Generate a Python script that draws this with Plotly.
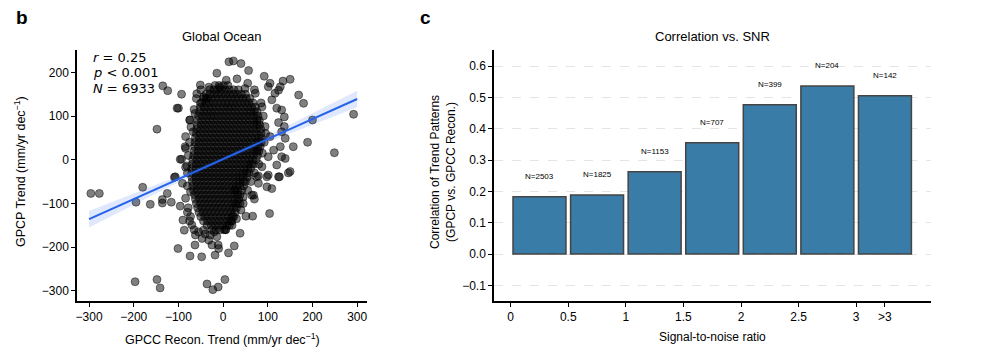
import plotly.graph_objects as go

# ---- panel b: GPCP vs GPCC recon. trends (mm/yr dec^-1) ----
# scattered points outside the dense core
outlier_x = [-148, -135, -124, -93, -100, -103, -59, -74, 13, 23, 40, 57, -14, 7, 31, 92, 105, 134, 150, 124,
             169, 180, 200, 157, 189, 249, 292, 131, 137, 139, 131, 150, 124, 98, 75, -96, -107, -81, -85, -84,
             -51, -38, -7, -296, -277, -180, -195, -163, -136, -136, -116, -109, -91, -96, -101, -74, -48, -63,
             -87, -90, -70, -197, -148, -141, -36, -23, -11, 4, -18, 12, 25, 38, -11, -14, -29, -44, 51, 66,
             104, 68, 70, 98, 109, 79, 126, 146, 45, 137, 124, 131, 128, 139, 120, 101, 79, 49, 116, 128, 101,
             109, 120, 72, 87, 94, 105, 113, 101, 87, -43, -63, -75, -67, -84, -93, -84, -32, -51, -125, -84,
             -73, -62, -47, -73, -32, -25, 64, 38, -10, 27]
outlier_y = [70, 169, 158, 150, 118, 118, 151, 91, 224, 226, 220, 204, 198, 182, 185, 191, 175, 180, 184, 159,
             148, 129, 91, 30, 40, 16, 104, 114, 76, 49, 7, -27, -39, -39, -39, 1, -39, -14, 30, 53,
             171, 140, 166, -77, -77, -63, -97, -102, -91, -99, -97, -40, -54, -106, -203, -220, -222, -195,
             -161, -138, -149, -279, -274, -293, -284, -297, -291, -274, -218, -213, -197, -168, -195, -176, -172, -161, -129, -129,
             -123, -81, -90, -62, -66, -54, -39, -30, -85, 98, 85, 64, 30, 3, -12, -35, -37, 163, 152, 167, 167,
             137, 118, 152, 121, 76, 53, 22, 7, -16, 144, 106, 91, 64, 26, 1, -17, 166, 129, -77, -88,
             -73, -172, -180, -130, -184, -195, -81, -100, -203, -69]

# grey fringe hugging the dense core
fringe_x = [-78, -80, -75, -65, -55, -40, -20, 5, 20, 30, 40, 45, 55, 62, 70, 80, 88, 92, 95, 90,
            85, 70, 55, -50, -60, -65, -72, -75, -78, -80, -80]
fringe_y = [-110, -120, -140, -160, -165, -170, -165, -160, -150, -135, -115, -100, -70, -50, -30, -10, 15, 40, 60, 100,
            130, 160, 175, 160, 140, 115, 75, 40, 10, -30, -60]

# dense core of the cloud, one row of x values per y level
core_levels = [170, 160, 150, 140, 130, 120, 110, 100, 90, 80, 70, 60, 50, 40, 30, 20, 10, 0,
               -10, -20, -30, -40, -50, -60, -70, -80, -90, -100, -110, -120, -130, -140, -150, -160]
core_rows = [
    [-18, -9, 1, 11],
    [-30, -21, -13, -4, 5, 14, 24, 34],
    [-38, -29, -20, -12, -3, 6, 15, 23, 32, 41, 50],
    [-44, -35, -27, -18, -9, 0, 9, 18, 27, 35, 44, 52, 60],
    [-48, -39, -31, -22, -13, -4, 5, 13, 22, 31, 40, 49, 58, 67],
    [-51, -42, -33, -25, -16, -7, 2, 11, 19, 28, 37, 46, 55, 64, 72],
    [-53, -44, -36, -27, -18, -9, 0, 9, 18, 27, 36, 45, 54, 62, 70, 76],
    [-55, -46, -37, -28, -20, -11, -2, 7, 16, 25, 34, 43, 52, 61, 70, 78],
    [-57, -48, -39, -30, -21, -12, -3, 6, 15, 24, 33, 42, 51, 60, 69, 76, 81],
    [-58, -49, -40, -31, -22, -13, -4, 5, 14, 23, 32, 41, 50, 59, 68, 76, 82],
    [-59, -50, -41, -32, -23, -14, -5, 4, 13, 22, 31, 40, 49, 58, 67, 76, 84],
    [-60, -51, -42, -33, -24, -15, -6, 3, 12, 21, 30, 39, 48, 57, 66, 75, 85],
    [-62, -53, -44, -35, -26, -17, -8, 1, 10, 19, 28, 37, 46, 55, 64, 73, 80, 86],
    [-63, -54, -45, -36, -27, -18, -9, 0, 9, 18, 27, 36, 45, 54, 63, 72, 79, 85],
    [-64, -55, -46, -37, -28, -19, -10, -1, 8, 17, 26, 35, 44, 53, 62, 71, 78, 83],
    [-65, -56, -47, -38, -29, -20, -11, -2, 7, 16, 25, 34, 43, 52, 61, 70, 76, 80],
    [-66, -57, -48, -39, -30, -21, -12, -3, 6, 15, 24, 33, 42, 51, 60, 68, 77],
    [-68, -59, -50, -41, -32, -23, -14, -5, 4, 13, 22, 31, 40, 49, 58, 66, 74],
    [-69, -60, -51, -42, -33, -24, -15, -6, 3, 12, 21, 30, 39, 48, 57, 63, 68],
    [-70, -61, -52, -43, -34, -25, -16, -7, 2, 11, 20, 29, 38, 47, 55, 62],
    [-70, -61, -52, -43, -34, -25, -16, -7, 2, 11, 20, 29, 38, 46, 53, 58],
    [-70, -61, -52, -43, -34, -25, -16, -7, 2, 11, 20, 29, 37, 45, 54],
    [-69, -60, -51, -42, -33, -24, -15, -6, 3, 12, 21, 30, 38, 45, 50],
    [-68, -59, -50, -41, -32, -23, -14, -5, 4, 13, 22, 30, 38, 46],
    [-66, -57, -48, -39, -30, -21, -12, -3, 6, 15, 24, 33, 42],
    [-64, -55, -46, -37, -28, -19, -10, -1, 8, 17, 26, 33, 38],
    [-62, -53, -44, -35, -26, -17, -8, 1, 10, 19, 27, 35],
    [-60, -51, -42, -33, -24, -15, -6, 3, 12, 21, 28, 33],
    [-57, -48, -39, -30, -21, -12, -3, 6, 15, 23, 30],
    [-54, -45, -36, -27, -18, -9, 0, 9, 18, 27],
    [-50, -41, -32, -23, -14, -5, 4, 13, 21, 24],
    [-44, -35, -26, -17, -8, 1, 10, 17, 20],
    [-36, -27, -18, -9, 0, 9, 14],
    [-25, -16, -7, 2, 6],
]

# regression line and its confidence band
fit_x = [-300, -200, -100, 0, 100, 200, 300]
fit_y = [-135.9, -90.1, -44.3, 1.5, 47.3, 93.1, 138.9]
fit_hi = [-117, -77, -37, 5.5, 54.7, 106.1, 157.9]
fit_lo = [-155, -103, -51.7, -2.5, 39.9, 80.1, 119.9]

stats_text = ["<i>r</i> = 0.25", "<i>p</i> < 0.001", "<i>N</i> = 6933"]

# ---- panel c: correlation per SNR bin ----
snr_centers = [0.25, 0.75, 1.25, 1.75, 2.25, 2.75, 3.25]
corr_vals = [0.183, 0.189, 0.263, 0.356, 0.477, 0.537, 0.506]
bin_counts = [2503, 1825, 1153, 707, 399, 204, 142]
snr_tickvals = [0, 0.5, 1, 1.5, 2, 2.5, 3, 3.25]
snr_ticktext = ["0", "0.5", "1", "1.5", "2", "2.5", "3", ">3"]

pts_x = list(outlier_x) + list(fringe_x)
pts_y = list(outlier_y) + list(fringe_y)
for lvl, row in zip(core_levels, core_rows):
    pts_x += row
    pts_y += [lvl] * len(row)

FONT = "Liberation Sans, Arial, sans-serif"
BLUE = "#2563eb"

# the page body adds an 8px margin, so the figure is drawn 8px smaller
OFF = 8
W, H = 997 - OFF, 362 - OFF


def px(v):
    return (v - OFF) / W


def py(v):
    return 1 - (v - OFF) / H


fig = go.Figure()

fig.add_trace(go.Scatter(
    x=pts_x, y=pts_y, mode="markers",
    marker=dict(size=8, color="rgba(0,0,0,0.5)", line=dict(width=1, color="rgba(0,0,0,0.45)")),
    xaxis="x", yaxis="y", showlegend=False, hoverinfo="skip"))

fig.add_trace(go.Scatter(
    x=fit_x + fit_x[::-1], y=fit_hi + fit_lo[::-1], fill="toself",
    fillcolor="rgba(37,99,235,0.15)", line=dict(width=0), mode="lines",
    xaxis="x", yaxis="y", showlegend=False, hoverinfo="skip"))

fig.add_trace(go.Scatter(
    x=fit_x, y=fit_y, mode="lines", line=dict(color=BLUE, width=2),
    xaxis="x", yaxis="y", showlegend=False))

fig.add_trace(go.Bar(
    x=snr_centers, y=corr_vals, width=0.46,
    marker=dict(color="#3a7ca8", line=dict(color="#444444", width=1.5)),
    xaxis="x2", yaxis="y2", showlegend=False))

axis_common = dict(showline=True, linecolor="black", linewidth=1.5, ticks="outside",
                   ticklen=4, tickwidth=1.2, tickcolor="black", zeroline=False,
                   automargin=False,
                   tickfont=dict(family=FONT, size=12, color="black"), mirror=False)

fig.update_layout(
    template="none",
    width=W, height=H,
    margin=dict(l=0, r=0, t=0, b=0),
    paper_bgcolor="white", plot_bgcolor="white",
    font=dict(family=FONT, size=12, color="black"),
    xaxis=dict(domain=[px(77), px(367)], range=[-327, 322],
               tickvals=[-300, -200, -100, 0, 100, 200, 300], showgrid=False,
               anchor="y", **axis_common),
    yaxis=dict(domain=[py(301), py(50)], range=[-323, 251],
               tickvals=[-300, -200, -100, 0, 100, 200], showgrid=False,
               anchor="x", **axis_common),
    xaxis2=dict(domain=[px(494), px(931)], range=[-0.145, 3.65],
                tickvals=snr_tickvals, ticktext=snr_ticktext, showgrid=False,
                anchor="y2", **axis_common),
    yaxis2=dict(domain=[py(301), py(50)], range=[-0.15, 0.652],
                tickvals=[-0.1, 0, 0.1, 0.2, 0.3, 0.4, 0.5, 0.6], tickformat=".1f",
                showgrid=True, gridcolor="#e4e4e4", gridwidth=0.8, griddash="dash",
                anchor="x2", **axis_common),
)

ann = []
# panel letters and titles
ann.append(dict(text="<b>b</b>", x=22, y=18, font=dict(size=19)))
ann.append(dict(text="<b>c</b>", x=425, y=18, font=dict(size=19)))
ann.append(dict(text="Global Ocean", x=222, y=36, font=dict(size=13)))
ann.append(dict(text="Correlation vs. SNR", x=712, y=36, font=dict(size=13)))
# axis titles
ann.append(dict(text="GPCC Recon. Trend (mm/yr dec<sup>−1</sup>)", x=222, y=339, font=dict(size=12.5)))
ann.append(dict(text="GPCP Trend (mm/yr dec<sup>−1</sup>)", x=20, y=172, textangle=-90, font=dict(size=12.5)))
ann.append(dict(text="Signal-to-noise ratio", x=712, y=337, font=dict(size=12)))
ann.append(dict(text="Correlation of Trend Patterns<br>(GPCP vs. GPCC Recon.)", x=443, y=172,
                textangle=-90, font=dict(size=12)))
for a in ann:
    a.update(xref="paper", yref="paper", showarrow=False, xanchor="center", yanchor="middle")
    a["x"] = px(a["x"])
    a["y"] = py(a["y"])

# stats box in panel b
for i, s in enumerate(stats_text):
    ann.append(dict(text=s, xref="paper", yref="paper", x=px(91), y=py(57 + 15.5 * i),
                    xanchor="left", yanchor="middle", showarrow=False,
                    font=dict(family="DejaVu Sans, sans-serif", size=13, color="black")))

# N labels above the bars
for xc, v, n in zip(snr_centers, corr_vals, bin_counts):
    ann.append(dict(text=f"N={n}", x=xc, y=v, xref="x2", yref="y2", yshift=20,
                    xanchor="center", yanchor="middle", showarrow=False,
                    font=dict(family=FONT, size=8, color="black")))

fig.update_layout(annotations=ann)

fig.write_html("out.html")
